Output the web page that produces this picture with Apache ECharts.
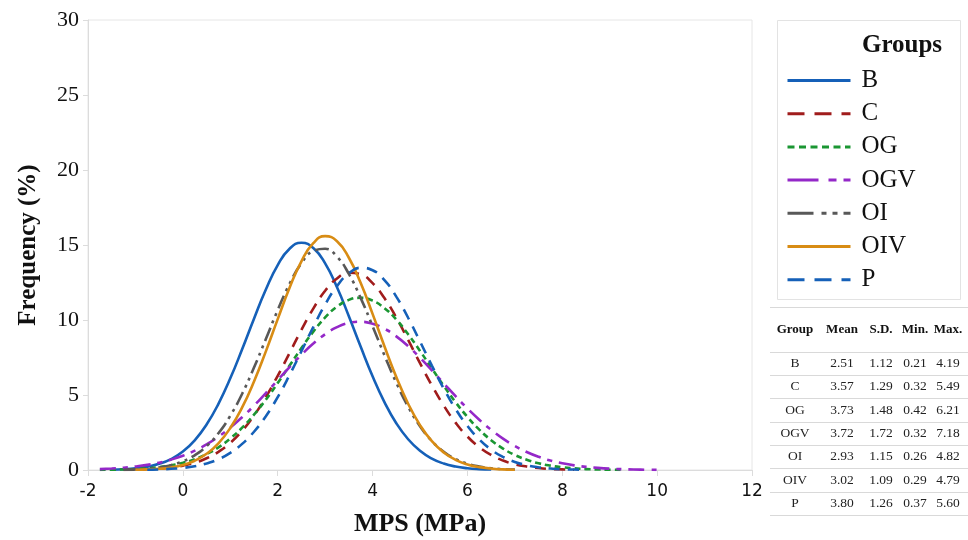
<!DOCTYPE html>
<html>
<head>
<meta charset="utf-8">
<script src="https://cdn.jsdelivr.net/npm/echarts@6/dist/echarts.min.js"></script>
<style>html,body{margin:0;padding:0;background:#fff}#c{width:968px;height:540px}</style>
</head>
<body>
<div id="c"></div>
<script>
// MPS grid (MPa)
const mps = [-1.75,-1.5,-1.25,-1,-0.75,-0.5,-0.25,0,0.25,0.5,0.75,1,1.25,1.5,1.75,2,2.25,2.5,2.75,3,3.25,3.5,3.75,4,4.25,4.5,4.75,5,5.25,5.5,5.75,6,6.25,6.5,6.75,7,7.25,7.5,7.75,8,8.25,8.5,8.75,9,9.25,9.5,9.75,10,10.25];
const N = null;
const groups = ['B','C','OG','OGV','OI','OIV','P'];
const freqB = [N,0.02,0.05,0.11,0.22,0.41,0.73,1.23,1.98,3.03,4.41,6.11,8.05,10.09,12.03,13.66,14.75,15.15,14.80,13.77,12.18,10.25,8.21,6.25,4.53,3.12,2.05,1.28,0.76,0.43,0.23,0.12,0.06,0.03,N,N,N,N,N,N,N,N,N,N,N,N,N,N,N];
const freqC = [N,N,0.01,0.02,0.05,0.09,0.16,0.29,0.48,0.78,1.21,1.81,2.61,3.63,4.87,6.28,7.80,9.34,10.76,11.95,12.77,13.15,13.04,12.46,11.46,10.16,8.67,7.12,5.64,4.30,3.16,2.23,1.52,1.00,0.63,0.38,0.23,0.13,0.07,0.04,0.02,N,N,N,N,N,N,N,N];
const freqOG = [0.01,0.02,0.04,0.07,0.12,0.19,0.31,0.48,0.72,1.06,1.51,2.10,2.82,3.69,4.69,5.80,6.96,8.13,9.22,10.17,10.89,11.34,11.48,11.29,10.79,10.03,9.05,7.94,6.77,5.62,4.52,3.54,2.69,1.99,1.43,1.00,0.68,0.45,0.29,0.18,0.11,0.06,0.04,0.02,0.01,N,N,N,N];
const freqOGV = [0.06,0.10,0.15,0.23,0.34,0.49,0.69,0.95,1.29,1.71,2.22,2.83,3.52,4.29,5.13,5.99,6.86,7.68,8.43,9.05,9.52,9.80,9.88,9.75,9.42,8.91,8.26,7.49,6.65,5.78,4.92,4.10,3.35,2.68,2.09,1.60,1.20,0.88,0.63,0.45,0.31,0.21,0.14,0.09,0.06,0.03,0.02,0.01,N];
const freqOI = [N,N,0.02,0.04,0.09,0.17,0.32,0.58,0.98,1.59,2.45,3.62,5.08,6.83,8.73,10.66,12.41,13.78,14.60,14.75,14.22,13.07,11.46,9.59,7.65,5.82,4.22,2.92,1.93,1.22,0.73,0.42,0.23,0.12,0.06,0.03,N,N,N,N,N,N,N,N,N,N,N,N,N];
const freqOIV = [N,N,N,0.02,0.04,0.08,0.17,0.34,0.62,1.08,1.78,2.80,4.17,5.90,7.91,10.06,12.15,13.91,15.12,15.59,15.25,14.15,12.46,10.41,8.25,6.20,4.42,2.99,1.92,1.17,0.68,0.37,0.19,0.10,0.04,0.02,N,N,N,N,N,N,N,N,N,N,N,N,N];
const freqP = [N,N,N,N,0.02,0.04,0.08,0.14,0.25,0.44,0.72,1.14,1.74,2.55,3.59,4.86,6.33,7.92,9.53,11.03,12.26,13.11,13.48,13.32,12.66,11.56,10.15,8.57,6.96,5.43,4.07,2.94,2.04,1.36,0.87,0.54,0.32,0.18,0.10,0.05,0.03,0.01,N,N,N,N,N,N,N];

// summary table
const tableHeader = ['Group','Mean','S.D.','Min.','Max.'];
const tableMean = ['2.51','3.57','3.73','3.72','2.93','3.02','3.80'];
const tableSD   = ['1.12','1.29','1.48','1.72','1.15','1.09','1.26'];
const tableMin  = ['0.21','0.32','0.42','0.32','0.26','0.29','0.37'];
const tableMax  = ['4.19','5.49','6.21','7.18','4.82','4.79','5.60'];

const freqs = [freqB,freqC,freqOG,freqOGV,freqOI,freqOIV,freqP];
const styles = [
  {color:'#1560b8', type:'solid', legendType:'solid'},
  {color:'#a01c1c', type:[11,8], legendType:[17,10]},
  {color:'#1a9632', type:[6,4], legendType:[7,4.5]},
  {color:'#9428c8', type:[16,7,5,7], legendType:[31,10,8,7]},
  {color:'#585858', type:[14,5,3,5,3,5], legendType:[26,8,5,6,5,6]},
  {color:'#d88c14', type:'solid', legendType:'solid'},
  {color:'#1560b8', type:[11,8], legendType:[17,10]}
];

function pairs(ys){
  const out=[];
  for(let i=0;i<mps.length;i++){ if(ys[i]!==null) out.push([mps[i], ys[i]]); }
  return out;
}

const series = groups.map((g,i)=>({
  name:g, type:'line', smooth:true, symbol:'none', showSymbol:false,
  data: pairs(freqs[i]),
  lineStyle:{color:styles[i].color, width:2.6, type:styles[i].type},
  itemStyle:{color:styles[i].color}
}));

const serif = '"Liberation Serif","Times New Roman",serif';
const graphic = [];
// legend box
graphic.push({type:'rect', shape:{x:777.5,y:20.5,width:183,height:279}, style:{fill:'none', stroke:'#e3e3e3', lineWidth:1}});
graphic.push({type:'text', x:902, y:46, style:{text:'Groups', font:'bold 25px '+serif, fill:'#111', textAlign:'center', textVerticalAlign:'middle'}});
// table
const colX = [795,842,881,915,948];
const lineYs = [307,352,375,398,422,445,468,492,515];
lineYs.forEach(y=>graphic.push({type:'line', shape:{x1:770,y1:y+0.5,x2:968,y2:y+0.5}, style:{stroke:'#d9d9d9', lineWidth:1}}));
tableHeader.forEach((h,j)=>graphic.push({type:'text', x:colX[j], y:330, style:{text:h, font:'bold 13px '+serif, fill:'#111', textAlign:'center', textVerticalAlign:'middle'}}));
const cols = [groups, tableMean, tableSD, tableMin, tableMax];
for(let r=0;r<groups.length;r++){
  for(let j=0;j<5;j++){
    graphic.push({type:'text', x:colX[j], y:363.5+r*23.3, style:{text:cols[j][r], font:'13.5px '+serif, fill:'#222', textAlign:'center', textVerticalAlign:'middle'}});
  }
}

const chart = echarts.init(document.getElementById('c'), null, {renderer:'canvas'});
chart.setOption({
  animation:false,
  backgroundColor:'#fff',
  grid:{left:88, top:20, width:664, height:450, show:true, borderColor:'#e6e6e6', borderWidth:1,
    containLabel:false, outerBoundsMode:'none'},
  xAxis:{type:'value', min:-2, max:12, interval:2,
    name:'MPS (MPa)', nameLocation:'middle', nameGap:41,
    nameTextStyle:{fontFamily:serif, fontWeight:'bold', fontSize:26, color:'#111'},
    axisLine:{show:true, onZero:false, lineStyle:{color:'#dcdcdc'}},
    axisTick:{show:true, length:6, lineStyle:{color:'#dcdcdc'}},
    axisLabel:{fontFamily:'"DejaVu Sans",sans-serif', fontSize:17, color:'#111', margin:13},
    splitLine:{show:false}},
  yAxis:{type:'value', min:0, max:30, interval:5,
    name:'Frequency (%)', nameLocation:'middle', nameGap:47,
    nameTextStyle:{fontFamily:serif, fontWeight:'bold', fontSize:25, color:'#111'},
    axisLine:{show:true, onZero:false, lineStyle:{color:'#dcdcdc'}},
    axisTick:{show:true, length:5, lineStyle:{color:'#dcdcdc'}},
    axisLabel:{fontFamily:serif, fontSize:22, color:'#111', margin:9},
    splitLine:{show:false}},
  legend:{orient:'vertical', left:781, top:63, itemWidth:63, itemHeight:14, itemGap:8.2,
    data:groups.map((g,i)=>({name:g, lineStyle:{type:styles[i].legendType, width:3}})),
    itemStyle:{opacity:0, borderWidth:0},
    lineStyle:{width:3},
    textStyle:{fontFamily:serif, fontSize:25, color:'#111', padding:[0,0,0,6]}},
  graphic: graphic,
  series: series
});
</script>
</body>
</html>
